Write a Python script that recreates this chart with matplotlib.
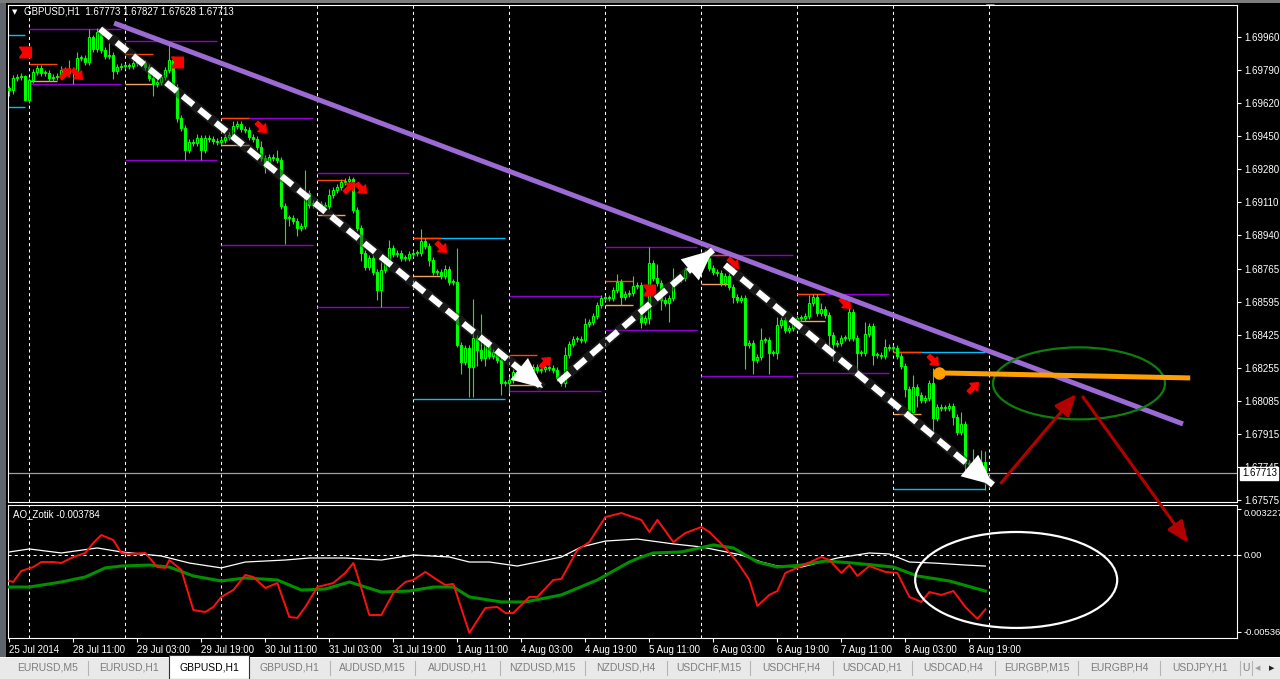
import numpy as np
import pandas as pd
import matplotlib
matplotlib.use('Agg')
import matplotlib.pyplot as plt
from matplotlib.patches import Ellipse, FancyArrowPatch, Rectangle, Polygon
from matplotlib.path import Path

plt.rcParams['font.family'] = ['Liberation Sans', 'DejaVu Sans']

# GBPUSD H1, 25 Jul 2014 19:00 .. 8 Aug 2014 23:00
times = pd.date_range('2014-07-25 19:00', '2014-08-08 23:00', freq='h')
times = times[times.dayofweek < 5]

open0 = 1.69700
closes = [
    1.69687, 1.69749, 1.69754, 1.69759, 1.69636, 1.69739, 1.69780, 1.69800, 1.69775, 1.69775,
    1.69749, 1.69754, 1.69759, 1.69790, 1.69775, 1.69790, 1.69780, 1.69852, 1.69852, 1.69831,
    1.69960, 1.69898, 1.69986, 1.69893, 1.69862, 1.69867, 1.69785, 1.69806, 1.69811, 1.69811,
    1.69811, 1.69826, 1.69831, 1.69826, 1.69806, 1.69749, 1.69718, 1.69728, 1.69754, 1.69790,
    1.69842, 1.69703, 1.69543, 1.69491, 1.69378, 1.69419, 1.69414, 1.69440, 1.69378, 1.69440,
    1.69435, 1.69424, 1.69419, 1.69430, 1.69445, 1.69455, 1.69502, 1.69512, 1.69486, 1.69481,
    1.69445, 1.69435, 1.69394, 1.69337, 1.69291, 1.69342, 1.69337, 1.69327, 1.69090, 1.69028,
    1.69028, 1.69012, 1.68976, 1.68987, 1.69157, 1.69095, 1.69105, 1.69100, 1.69095, 1.69090,
    1.69146, 1.69172, 1.69188, 1.69213, 1.69218, 1.69229, 1.69069, 1.68976, 1.68848, 1.68776,
    1.68822, 1.68750, 1.68657, 1.68760, 1.68801, 1.68873, 1.68842, 1.68848, 1.68822, 1.68822,
    1.68842, 1.68848, 1.68848, 1.68909, 1.68884, 1.68812, 1.68750, 1.68750, 1.68729, 1.68765,
    1.68698, 1.68698, 1.68374, 1.68286, 1.68358, 1.68261, 1.68410, 1.68348, 1.68307, 1.68389,
    1.68317, 1.68338, 1.68297, 1.68178, 1.68178, 1.68194, 1.68235, 1.68214, 1.68245, 1.68235,
    1.68245, 1.68260, 1.68245, 1.68250, 1.68260, 1.68255, 1.68245, 1.68204, 1.68178, 1.68322,
    1.68379, 1.68405, 1.68405, 1.68400, 1.68482, 1.68492, 1.68523, 1.68580, 1.68616, 1.68616,
    1.68616, 1.68657, 1.68698, 1.68621, 1.68636, 1.68642, 1.68678, 1.68683, 1.68492, 1.68513,
    1.68796, 1.68719, 1.68693, 1.68606, 1.68590, 1.68616, 1.68709, 1.68714, 1.68719, 1.68760,
    1.68770, 1.68781, 1.68801, 1.68812, 1.68822, 1.68770, 1.68750, 1.68745, 1.68693, 1.68729,
    1.68673, 1.68621, 1.68606, 1.68616, 1.68374, 1.68384, 1.68297, 1.68312, 1.68400, 1.68400,
    1.68333, 1.68333, 1.68477, 1.68503, 1.68451, 1.68461, 1.68492, 1.68513, 1.68513, 1.68523,
    1.68590, 1.68621, 1.68539, 1.68559, 1.68528, 1.68425, 1.68379, 1.68384, 1.68410, 1.68410,
    1.68544, 1.68410, 1.68333, 1.68333, 1.68430, 1.68472, 1.68322, 1.68322, 1.68317, 1.68363,
    1.68358, 1.68358, 1.68317, 1.68266, 1.68147, 1.68029, 1.68157, 1.68116, 1.68091, 1.68101,
    1.68178, 1.67998, 1.68054, 1.68049, 1.68049, 1.68060, 1.68003, 1.67926, 1.67967, 1.67766,
    1.67761, 1.67766, 1.67761, 1.67773, 1.67713,
]
# wick lengths above / below the body, in points (0.00001)
upper_wick = [
    10, 15, 15, 15, 5, 10, 15, 15, 15, 15, 15, 15, 15, 20, 15, 50, 15, 30, 15, 15,
    40, 10, 20, 15, 15, 60, 15, 15, 15, 15, 15, 15, 20, 15, 15, 15, 15, 15, 15, 15,
    90, 20, 15, 15, 15, 15, 15, 20, 15, 15, 15, 15, 15, 15, 15, 15, 25, 15, 15, 15,
    15, 15, 15, 30, 15, 15, 15, 40, 15, 15, 15, 15, 15, 15, 120, 15, 15, 15, 15, 15,
    30, 15, 15, 15, 15, 15, 10, 15, 15, 15, 15, 15, 15, 40, 15, 40, 15, 15, 15, 15,
    15, 15, 15, 60, 15, 15, 15, 15, 15, 20, 15, 15, 175, 15, 15, 15, 200, 15, 185, 15,
    15, 15, 15, 15, 15, 15, 15, 15, 15, 15, 15, 15, 15, 15, 15, 15, 15, 15, 15, 40,
    15, 15, 15, 15, 30, 15, 15, 15, 15, 15, 15, 15, 40, 15, 15, 15, 50, 15, 15, 15,
    80, 15, 70, 15, 15, 15, 60, 15, 15, 15, 40, 15, 15, 15, 40, 15, 15, 15, 15, 15,
    15, 15, 15, 15, 15, 15, 15, 15, 60, 15, 15, 15, 40, 15, 15, 15, 15, 15, 15, 15,
    40, 15, 15, 30, 15, 15, 15, 15, 15, 15, 40, 15, 15, 15, 60, 15, 15, 15, 15, 40,
    15, 15, 15, 15, 15, 15, 60, 15, 15, 15, 15, 75, 15, 15, 15, 15, 15, 15, 60, 15,
    15, 70, 15, 60, 54,
]
lower_wick = [
    30, 20, 15, 15, 5, 15, 15, 15, 15, 15, 15, 15, 15, 15, 15, 15, 60, 15, 15, 15,
    15, 15, 15, 15, 15, 15, 40, 15, 15, 15, 15, 15, 15, 15, 15, 15, 60, 15, 15, 15,
    15, 15, 20, 15, 50, 15, 15, 15, 50, 15, 15, 15, 15, 15, 15, 15, 15, 15, 15, 15,
    15, 15, 15, 15, 30, 15, 15, 15, 15, 135, 40, 15, 40, 15, 15, 15, 15, 15, 15, 15,
    15, 15, 15, 15, 15, 15, 15, 15, 40, 15, 15, 15, 50, 85, 15, 15, 15, 15, 15, 15,
    15, 15, 15, 15, 15, 30, 15, 15, 15, 15, 15, 15, 10, 60, 15, 155, 155, 80, 15, 40,
    15, 15, 15, 60, 15, 50, 15, 15, 15, 15, 15, 15, 15, 15, 15, 15, 15, 15, 15, 20,
    15, 15, 15, 15, 15, 15, 15, 15, 15, 15, 15, 15, 15, 40, 15, 15, 15, 15, 30, 15,
    30, 15, 15, 50, 15, 100, 15, 15, 15, 15, 15, 15, 15, 15, 15, 15, 15, 15, 15, 15,
    15, 30, 15, 15, 125, 15, 75, 15, 15, 15, 110, 15, 30, 15, 15, 15, 15, 15, 15, 15,
    15, 15, 15, 15, 15, 60, 90, 15, 15, 15, 15, 15, 95, 15, 15, 15, 50, 15, 15, 15,
    15, 15, 15, 15, 40, 30, 15, 60, 15, 15, 15, 70, 15, 15, 15, 15, 40, 15, 15, 40,
    15, 15, 15, 15, 85,
]

# daily levels (one entry per trading day)
day_high = [1.69970, 1.70001, 1.69939, 1.69543, 1.69260, 1.68925, 1.68626, 1.68878, 1.68837, 1.68636, 1.68338]
day_low = [1.69599, 1.69718, 1.69327, 1.68889, 1.68570, 1.68096, 1.68137, 1.68451, 1.68214, 1.68230, 1.67632]
early_high = [None, 1.69821, 1.69872, 1.69543, 1.69224, 1.68925, 1.68322, 1.68703, 1.68837, 1.68636, 1.68338]
early_low = [None, 1.69733, 1.69718, 1.69404, 1.69043, 1.68729, 1.68168, 1.68580, 1.68688, 1.68497, 1.68018]

price_ticks = [1.69960, 1.69790, 1.69620, 1.69450, 1.69280, 1.69110, 1.68940, 1.68765,
               1.68595, 1.68425, 1.68255, 1.68085, 1.67915, 1.67745, 1.67575]
last_price = 1.67713

# signal arrows on the chart
sig_bar = [4, 14, 17, 42, 63, 85, 88, 108, 134, 160, 181, 209, 231, 241]
sig_price = [1.69883, 1.69775, 1.69770, 1.69831, 1.69496, 1.69190, 1.69182, 1.68878,
             1.68286, 1.68657, 1.68796, 1.68590, 1.68297, 1.68158]
sig_kind = ['flag', 'up', 'down', 'flag', 'down', 'up', 'down', 'down',
            'up', 'flag', 'down', 'down', 'down', 'up']

# hand drawn objects (bar, price)
trend_line = [(26.2, 1.70032), (293.4, 1.67967)]
wave_arrows = [((22.7, 1.70001), (133.4, 1.68152)),
               ((137.4, 1.68183), (175.9, 1.68863)),
               ((178.9, 1.68786), (245.9, 1.67653))]
level_line = [(232.4, 1.68230), (295.2, 1.68204)]
target_zone = (267.4, 1.68176, 43.0, 0.00371)
scenario_arrows = [((247.9, 1.67663), (266.7, 1.68121)),
                   ((268.4, 1.68106), (294.7, 1.67354))]

# AO_Zotik indicator, read at selected bars
white_bar = [0, 5, 13, 22, 28, 38, 45, 53, 59, 69, 75, 84, 93, 101, 110, 115, 120, 127, 132, 138,
             143, 149, 157, 166, 173, 183, 188, 192, 198, 207, 215, 220, 225, 231, 239, 244]
white_val = [0.00021, 0.00042, 0.00014, 0.00049, 0.00021, -0.00007, -0.00056, -0.00090, -0.00049,
             -0.00035, -0.00021, -0.00021, -0.00035, 0.0, -0.00014, -0.00049, -0.00049, -0.00077,
             -0.00049, -0.00014, 0.00056, 0.00097, 0.00111, 0.00077, 0.00056, 0.0, -0.00049,
             -0.00077, -0.00084, -0.00021, 0.00014, 0.00007, -0.00049, -0.00056, -0.00070, -0.00077]
green_bar = [0, 5, 13, 19, 24, 28, 35, 40, 46, 53, 59, 67, 73, 79, 85, 93, 100, 106, 111, 115,
             123, 129, 138, 147, 155, 158, 161, 168, 176, 181, 187, 192, 198, 204, 211, 221,
             227, 235, 244]
green_val = [-0.00223, -0.00223, -0.00188, -0.00153, -0.00090, -0.00077, -0.00070, -0.00084,
             -0.00146, -0.00181, -0.00160, -0.00174, -0.00244, -0.00237, -0.00188, -0.00258,
             -0.00251, -0.00223, -0.00223, -0.00292, -0.00327, -0.00327, -0.00278, -0.00174,
             -0.00049, -0.00014, 0.00014, 0.00021, 0.00070, 0.00049, -0.00049, -0.00084,
             -0.00070, -0.00042, -0.00056, -0.00084, -0.00146, -0.00181, -0.00251]
red_bar = [0, 1, 3, 6, 8, 11, 13, 16, 19, 21, 23, 26, 28, 30, 34, 37, 39, 40, 43, 46, 49, 51,
           53, 56, 59, 61, 64, 67, 70, 72, 74, 77, 81, 84, 86, 87, 90, 93, 96, 99, 101, 104,
           107, 109, 111, 115, 119, 122, 124, 126, 130, 132, 136, 138, 142, 145, 149, 153,
           158, 160, 162, 166, 169, 173, 175, 179, 182, 185, 187, 190, 192, 194, 198, 203,
           205, 208, 210, 212, 215, 219, 222, 225, 228, 230, 233, 236, 239, 242, 244]
red_val = [-0.00181, -0.00188, -0.00111, -0.00084, -0.00049, -0.00049, -0.00056, -0.00014,
           0.00014, 0.00084, 0.00139, 0.00104, 0.00014, 0.00007, 0.00014, -0.00084, -0.00090,
           -0.00035, -0.00104, -0.00383, -0.00397, -0.00362, -0.00292, -0.00244, -0.00139,
           -0.00153, -0.00230, -0.00195, -0.00432, -0.00438, -0.00362, -0.00223, -0.00195,
           -0.00125, -0.00056, -0.00139, -0.00418, -0.00418, -0.00264, -0.00188, -0.00174,
           -0.00118, -0.00174, -0.00209, -0.00202, -0.00543, -0.00369, -0.00362, -0.00404,
           -0.00404, -0.00292, -0.00292, -0.00174, -0.00167, 0.00035, 0.00090, 0.00264,
           0.00292, 0.00244, 0.00160, 0.00244, 0.00090, 0.00153, 0.00195, 0.00160, 0.00049,
           -0.00049, -0.00174, -0.00355, -0.00278, -0.00251, -0.00125, -0.00077, -0.00014,
           -0.00035, -0.00125, -0.00070, -0.00146, -0.00077, -0.00118, -0.00125, -0.00292,
           -0.00327, -0.00258, -0.00278, -0.00251, -0.00362, -0.00445, -0.003784]
ind_ticks = [0.003227, 0.0, -0.00536]
ind_labels = ['0.003227', '0.00', '-0.00536']

tabs = ['EURUSD,M5', 'EURUSD,H1', 'GBPUSD,H1', 'GBPUSD,H1', 'AUDUSD,M15', 'AUDUSD,H1',
        'NZDUSD,M15', 'NZDUSD,H4', 'USDCHF,M15', 'USDCHF,H4', 'USDCAD,H1', 'USDCAD,H4',
        'EURGBP,M15', 'EURGBP,H4', 'USDJPY,H1', 'U']
tab_edges = [8, 88, 169, 249, 330, 415, 500, 585, 667, 750, 833, 912, 995, 1078, 1160, 1240, 1252]
active_tab = 2

# ---------------------------------------------------------------
W, H = 1280, 679
fig = plt.figure(figsize=(W / 100, H / 100), dpi=100, facecolor='black')
ax = fig.add_axes([8 / W, 1 - 502 / H, 1229 / W, 497 / H])
axi = fig.add_axes([8 / W, 1 - 638 / H, 1229 / W, 133 / H])
ax.set_zorder(3)
axi.set_zorder(2)

n = len(closes)
idx = np.arange(n)
c = np.array(closes)
o = np.r_[open0, c[:-1]]
hi = np.maximum(o, c) + np.array(upper_wick) * 1e-5
lo = np.minimum(o, c) - np.array(lower_wick) * 1e-5
xlim = (-0.325, 306.9)

for a in (ax, axi):
    a.set_facecolor('black')
    a.set_xlim(*xlim)
    for s in a.spines.values():
        s.set_color('white')
        s.set_linewidth(0.8)

ax.set_ylim(1.67565, 1.70125)
axi.set_ylim(-0.00578, 0.00348)

# day separators
day_start = [i for i in range(n) if times[i].hour == 0] + [n]
for a in (ax, axi):
    for d in day_start:
        a.axvline(d, color='white', lw=0.75, ls=(0, (3, 3)), zorder=1)

# daily levels
dates = times.normalize()
udays = dates.unique()
for k, dday in enumerate(udays):
    bars = np.where(dates == dday)[0]
    b0, b1 = bars[0], bars[-1]
    if k == 0:
        b0 = b0 - 0.3
    col = '#00bfff' if dday.dayofweek == 4 else '#9400d3'
    ax.hlines([day_high[k], day_low[k]], b0, b1, color=col, lw=1.0, zorder=2)
    if early_high[k] is not None:
        ax.hlines(early_high[k], b0, b0 + 7, color='#ff4500', lw=1.0, zorder=2.1)
        ax.hlines(early_low[k], b0, b0 + 7, color='#f4a460', lw=1.0, zorder=2.1)

# last price line
ax.axhline(last_price, color='#a0a0a0', lw=0.9, zorder=1.5)

# candles
lime = '#00ff00'
ax.vlines(idx, lo, hi, color=lime, lw=0.8, zorder=3)
bot = np.minimum(o, c)
hgt = np.maximum(np.abs(c - o), 0.00003)
bull = c >= o
ax.bar(idx[bull], hgt[bull], bottom=bot[bull], width=0.5, facecolor='black',
       edgecolor=lime, lw=0.8, zorder=4)
ax.bar(idx[~bull], hgt[~bull], bottom=bot[~bull], width=0.5, facecolor=lime,
       edgecolor=lime, lw=0.8, zorder=4)

# signal markers
def rot(v, deg):
    t = np.deg2rad(deg)
    m = np.array([[np.cos(t), -np.sin(t)], [np.sin(t), np.cos(t)]])
    return v @ m.T

arrow_e = np.array([(-1, -0.3), (0.05, -0.3), (0.05, -0.8), (1, 0), (0.05, 0.8),
                    (0.05, 0.3), (-1, 0.3), (-1, -0.3)])
markers = {
    'down': Path(rot(arrow_e, -45), closed=True),
    'up': Path(rot(arrow_e, 45), closed=True),
    'flag': Path([(-1, 0.9), (1, 0.9), (1, -0.9), (-1, -0.9), (-0.4, 0), (-1, 0.9)], closed=True),
}
for b, p, kd in zip(sig_bar, sig_price, sig_kind):
    ax.plot(b, p, marker=markers[kd], ms=9 if kd != 'flag' else 8.5,
            color='red', mec='red', ls='none', zorder=6)

# purple trend line
(tx0, ty0), (tx1, ty1) = trend_line
ax.plot([tx0, tx1], [ty0, ty1], color='#9b6bd3', lw=3.6, solid_capstyle='butt', zorder=7)

# white dashed wave arrows
for (p0, p1) in wave_arrows:
    ax.plot([p0[0], p1[0]], [p0[1], p1[1]], color='#333333', lw=7, alpha=0.5, zorder=7.5,
            solid_capstyle='butt')
    ax.plot([p0[0], p1[0]], [p0[1], p1[1]], color='white', lw=4.5,
            ls=(0, (2.2, 1.2)), dash_capstyle='butt', zorder=8)
    ax.add_patch(FancyArrowPatch(p0, p1, arrowstyle='-|>,head_length=2.2,head_width=1.0',
                                 mutation_scale=10, color='white', lw=0,
                                 shrinkA=0, shrinkB=0, zorder=9))

# orange level
(lx0, ly0), (lx1, ly1) = level_line
ax.plot([lx0, lx1], [ly0, ly1], color='#ffa000', lw=3.6, solid_capstyle='butt', zorder=8)
ax.plot(lx0, ly0, 'o', color='#ffa000', ms=8, zorder=8)

# green target zone
ex, ey, ew, eh = target_zone
ax.add_patch(Ellipse((ex, ey), ew, eh, fill=False, ec='#0d7f0d', lw=1.6, zorder=7.8))

# dark red scenario arrows
for (p0, p1) in scenario_arrows:
    ax.add_patch(FancyArrowPatch(p0, p1, arrowstyle='-|>,head_length=1.3,head_width=0.55',
                                 mutation_scale=10, color='#b50000', lw=2.2,
                                 shrinkA=0, shrinkB=0, zorder=9, clip_on=False))

# price scale
ax.yaxis.tick_right()
ax.set_yticks(price_ticks, [f'{v:.5f}' for v in price_ticks])
ax.tick_params(axis='y', colors='white', labelsize=7, length=3, width=0.8, pad=2)
ax.tick_params(axis='x', bottom=False, labelbottom=False)
ax.annotate(f'{last_price:.5f}', xy=(1.0, last_price), xycoords=('axes fraction', 'data'),
            xytext=(3.5, 0), textcoords='offset points', va='center', ha='left',
            fontsize=7, color='black', annotation_clip=False, zorder=20,
            bbox=dict(boxstyle='square,pad=0.15', fc='white', ec='white'))

# indicator panel
axi.axhline(0, color='white', lw=0.75, ls=(0, (3, 3)), zorder=1)
axi.plot(white_bar, white_val, color='white', lw=0.9, zorder=3)
axi.plot(green_bar, green_val, color='#009000', lw=2.2, zorder=3)
axi.plot(red_bar, red_val, color='#ff1010', lw=1.4, zorder=4)
axi.add_patch(Ellipse((251.7, -0.00174), 50.5, 0.00668, fill=False, ec='white', lw=1.6, zorder=5))
axi.yaxis.tick_right()
axi.set_yticks(ind_ticks, ind_labels)
axi.tick_params(axis='y', colors='white', labelsize=6.8, length=3, width=0.8, pad=1.5)
axi.get_yticklabels()[0].set_va('top')
tick_bars = list(range(0, n, 16))
tick_lbl = []
for i in tick_bars:
    t = times[i]
    if i == 0:
        tick_lbl.append(f'{t.day} {t:%b %Y}')
    else:
        tick_lbl.append(f'{t.day} {t:%b %H:%M}')
axi.set_xticks(tick_bars, tick_lbl, ha='left')
axi.tick_params(axis='x', colors='white', labelsize=7, length=3, width=0.8, pad=2)

# header texts
fig.text(12 / W, 1 - 12 / H, '\u25bc', color='white', fontsize=5, va='center',
         family=['DejaVu Sans'])
fig.text(24 / W, 1 - 12 / H, 'GBPUSD,H1  1.67773 1.67827 1.67628 1.67713',
         color='white', fontsize=7, va='center')
fig.text(13 / W, 1 - 514 / H, 'AO_Zotik -0.003784', color='white', fontsize=7, va='center')
fig.patches.append(Polygon([(986 / W, 1 - 4 / H), (995 / W, 1 - 4 / H), (990.5 / W, 1 - 10 / H)],
                           closed=True, transform=fig.transFigure, fc='#8a8a8a', ec='none'))

# window frame
fig.patches.append(Rectangle((0, 0), 6 / W, 1, transform=fig.transFigure, fc='#60646c', ec='none'))
fig.patches.append(Rectangle((0, 1 - 3 / H), 1, 3 / H, transform=fig.transFigure,
                             fc='#7c7c7c', ec='none'))

# tab bar
fig.patches.append(Rectangle((0, 0), 1, 22 / H, transform=fig.transFigure, fc='#e9e9e9', ec='none'))
fig.patches.append(Rectangle((0, 21 / H), 1, 1.5 / H, transform=fig.transFigure,
                             fc='#ffffff', ec='none'))
for k, name in enumerate(tabs):
    x0, x1 = tab_edges[k], tab_edges[k + 1]
    if k == active_tab:
        fig.patches.append(Rectangle((x0 / W, 0), (x1 - x0) / W, 24 / H, transform=fig.transFigure,
                                     fc='white', ec='#303030', lw=0.8, zorder=2))
        col = 'black'
    else:
        col = '#7d7d7d'
        if k + 1 != active_tab:
            fig.add_artist(plt.Line2D([x1 / W, x1 / W], [4 / H, 18 / H], color='#b5b5b5', lw=0.8))
    fig.text((x0 + x1) / 2 / W, 11 / H, name, color=col, fontsize=7.5, ha='center',
             va='center', zorder=3)
fig.text(1258 / W, 11 / H, '\u25c0', color='#a0a0a0', fontsize=5, ha='center', va='center',
         family=['DejaVu Sans'])
fig.text(1272 / W, 11 / H, '\u25b6', color='#202020', fontsize=5, ha='center', va='center',
         family=['DejaVu Sans'])

fig.savefig('out.png', dpi=100, facecolor='black')
